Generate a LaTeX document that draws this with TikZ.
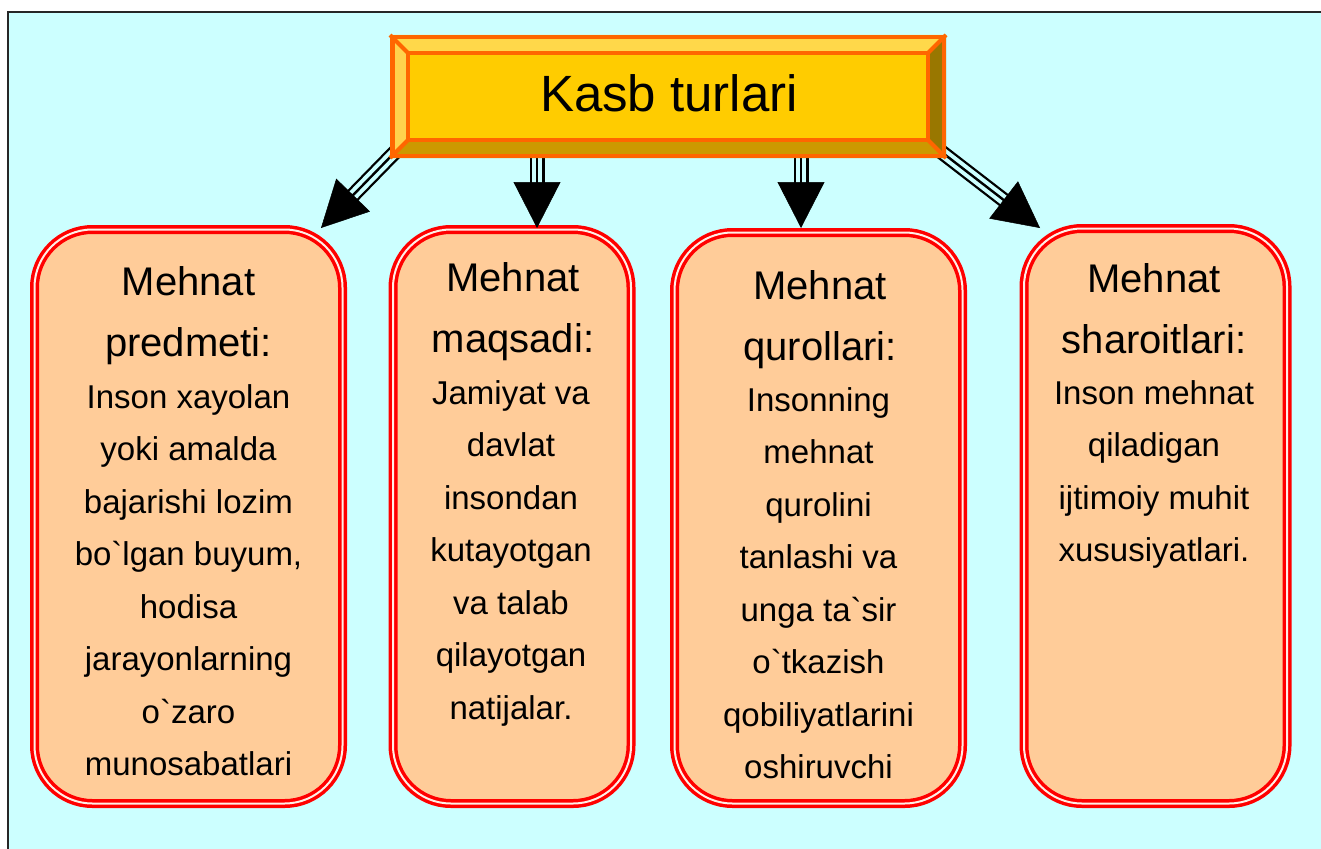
\documentclass[tikz,border=0pt]{standalone}
\usepackage{fontspec}
\setmainfont{Liberation Sans}[Ligatures=TeXOff]
\usetikzlibrary{arrows.meta,calc}
\definecolor{bg}{HTML}{CCFFFF}
\definecolor{peach}{HTML}{FFCC99}
\definecolor{org}{HTML}{FF6600}
\definecolor{gold}{HTML}{FFCC00}
\definecolor{bevtop}{HTML}{FFD84A}
\definecolor{bevleft}{HTML}{FFD24D}
\definecolor{bevright}{HTML}{997700}
\definecolor{bevbot}{HTML}{CC9900}
\definecolor{gapc}{HTML}{FFEEE6}
\begin{document}
\begin{tikzpicture}[x=1pt,y=-1pt,
  box/.style={draw=red, line width=3.5pt, double=gapc, double distance=2pt,
    fill=peach, rounded corners=58pt, inner sep=0pt},
  ttl/.style={anchor=base, font=\fontsize{40}{40}\selectfont, inner sep=0pt},
  body/.style={anchor=base, font=\fontsize{33}{33}\selectfont, inner sep=0pt},
  shaftout/.style={line width=15pt, draw=black, shorten >=40pt},
  shaftin/.style={draw=bg, line width=4pt, double=black, double distance=2.4pt, shorten >=40pt, shorten <=-2pt},
  head/.style={draw=black, line width=0.5pt, -{Triangle[length=46pt,width=47pt]}},
  bevel/.style={draw=org, line width=4pt, line join=miter}]
\useasboundingbox (0,0) rectangle (1321,848);
\fill[white] (0,0) rectangle (1321,848);
\draw[fill=bg, line width=2pt, draw=black!85] (8,12) rectangle (1340,870);

% boxes
\node[box, minimum width=308pt, minimum height=574pt] (b1) at (188.5,516.5) {};
\node[box, minimum width=238pt, minimum height=574pt] (b2) at (512,516.5) {};
\node[box, minimum width=288pt, minimum height=571pt] (b3) at (818.5,518) {};
\node[box, minimum width=263pt, minimum height=575pt] (b4) at (1155.5,516) {};

% arrow coordinates
\coordinate (s1) at (400,147); \coordinate (e1) at (321,228);
\coordinate (s2) at (537,150); \coordinate (e2) at (537,228);
\coordinate (s3) at (801,150); \coordinate (e3) at (801,228);
\coordinate (s4) at (935,147); \coordinate (e4) at (1040,228);
\foreach \i in {1,2,3,4}{
  \draw[shaftout] (s\i) -- (e\i);
  \draw[shaftin] (s\i) -- (e\i);
  \draw[head] (s\i) -- (e\i);
}

% title box with bevels
\fill[bevtop] (390,35) -- (946,35) -- (928,53) -- (408,53) -- cycle;
\fill[bevleft] (390,35) -- (408,53) -- (408,140) -- (390,158) -- cycle;
\fill[bevright] (946,35) -- (946,158) -- (928,140) -- (928,53) -- cycle;
\fill[bevbot] (390,158) -- (946,158) -- (928,140) -- (408,140) -- cycle;
\draw[bevel] (390,35) -- (408,53) (946,35) -- (928,53) (390,158) -- (408,140) (946,158) -- (928,140);
\draw[bevel, line width=4.5pt] (392.25,37.25) rectangle (943.75,155.75);
\node[draw=org, line width=4pt, fill=gold, minimum width=520pt, minimum height=87pt, inner sep=0pt] (t) at (668,96.5) {};
\node[anchor=base, font=\fontsize{51}{51}\selectfont, inner sep=0pt] (tt) at (669,112) {Kasb turlari};

% texts box 1
\node[ttl] (h1a) at (188.5,295) {Mehnat};
\node[ttl] (h1b) at (188.5,356) {predmeti:};
\foreach \t [count=\i] in {Inson xayolan, yoki amalda, bajarishi lozim, {bo`lgan buyum,}, hodisa, jarayonlarning, o`zaro, munosabatlari}
  \node[body] (l1\i) at (188.5,{408+52.5*(\i-1)}) {\t};
% box 2
\node[ttl] (h2a) at (513,291) {Mehnat};
\node[ttl] (h2b) at (513,352) {maqsadi:};
\foreach \t [count=\i] in {Jamiyat va, davlat, insondan, kutayotgan, va talab, qilayotgan, natijalar.}
  \node[body] (l2\i) at (511,{404+52.5*(\i-1)}) {\t};
% box 3
\node[ttl] (h3a) at (820,299) {Mehnat};
\node[ttl] (h3b) at (820,360) {qurollari:};
\foreach \t [count=\i] in {Insonning, mehnat, qurolini, tanlashi va, unga ta`sir, o`tkazish, qobiliyatlarini, oshiruvchi}
  \node[body] (l3\i) at (818.5,{411+52.5*(\i-1)}) {\t};
% box 4
\node[ttl] (h4a) at (1154,292) {Mehnat};
\node[ttl] (h4b) at (1154,353) {sharoitlari:};
\foreach \t [count=\i] in {Inson mehnat, qiladigan, ijtimoiy muhit, xususiyatlari.}
  \node[body] (l4\i) at (1154,{404+52.5*(\i-1)}) {\t};
\end{tikzpicture}
\end{document}
